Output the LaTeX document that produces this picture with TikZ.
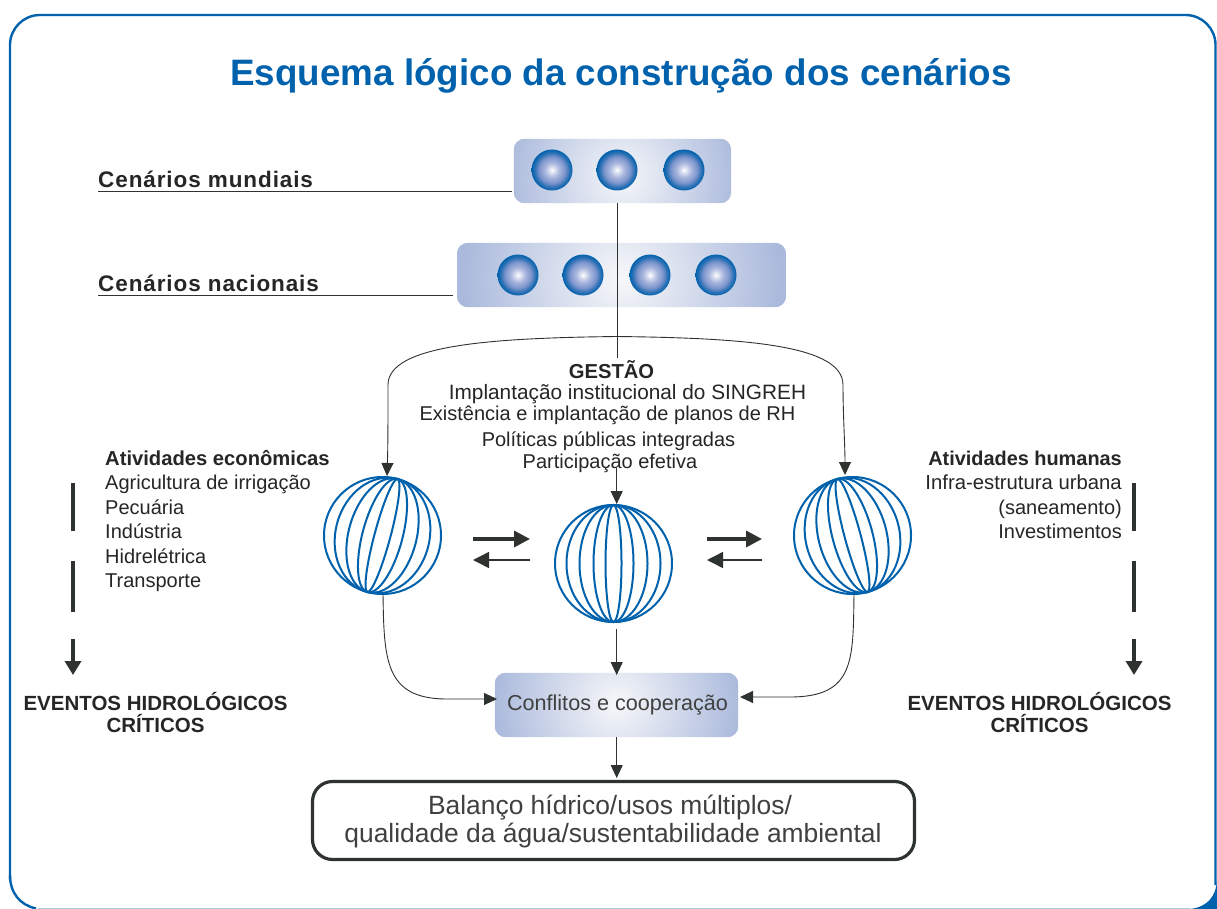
\documentclass[tikz,border=0pt]{standalone}
\usepackage{fontspec}
\setmainfont{Liberation Sans}
\usetikzlibrary{arrows.meta,calc}
\definecolor{bluebd}{HTML}{0062AC}
\definecolor{ink}{HTML}{2F332F}
\definecolor{txt}{HTML}{262626}
\definecolor{pan}{HTML}{AAB9DC}
\definecolor{panmid}{HTML}{F6F7F9}
\definecolor{ballA}{HTML}{E0E5F3}
\definecolor{ballB}{HTML}{A9B6DE}
\definecolor{ballC}{HTML}{7C95CC}
\definecolor{ballD}{HTML}{2F72B6}
\pgfdeclareradialshading{ballshade}{\pgfpoint{0bp}{0bp}}{
  color(0bp)=(white);
  color(3bp)=(ballA);
  color(9bp)=(ballB);
  color(16bp)=(ballC);
  color(21bp)=(ballD);
  color(25bp)=(bluebd);
  color(50bp)=(bluebd)}
\tikzset{
  px/.style={x=1pt,y=-1pt},
  panelbox/.style={draw=none,inner sep=0pt},
  ball/.style={circle,inner sep=0pt,minimum size=41pt,shading=ballshade},
  globe/.style={circle,inner sep=0pt,minimum size=117pt},
  meridian/.style={draw=bluebd,line width=2pt},
  wire/.style={draw=ink,line width=0.9pt},
  tiparrow/.style={wire,-{Triangle[length=13pt,width=12pt,color=ink]}},
  thickbar/.style={draw=ink,line width=3.6pt},
  txtnode/.style={inner sep=0pt,text=txt,font=\fontsize{20}{24}\selectfont,anchor=base},
  leftt/.style={txtnode,anchor=base west},
  rightt/.style={txtnode,anchor=base east},
  boldt/.style={font=\fontsize{20.2}{24}\selectfont\bfseries},
  eventt/.style={inner sep=0pt,text=txt,anchor=base,font=\fontsize{20.5}{24}\selectfont\bfseries},
  headt/.style={inner sep=0pt,text=txt,anchor=base west,font=\fontsize{22.5}{26}\selectfont\bfseries\addfontfeature{LetterSpace=4}},
  greyt/.style={inner sep=0pt,anchor=base,text=black!75},
}
\newcommand{\globelines}[3]{%
  \foreach \rx in {47,34,20,8}
    \draw[meridian,rotate around={#3:(#1,#2)}] (#1,#2) ellipse [x radius=\rx pt,y radius=58.5pt];
  \draw[meridian] (#1,#2) circle [radius=58.5pt];
}
\newcommand{\panelfill}[3]{%
  \begin{scope}
    \clip[rounded corners=11pt] (#1.north west) rectangle (#1.south east);
    \fill[pan] (#1.north west) rectangle (#1.south east);
    \shade[inner color=panmid,outer color=pan] ($(#1.center)+(0,#3)$) circle [radius=#2pt];
  \end{scope}}
\begin{document}
\begin{tikzpicture}[px]
\useasboundingbox (0,0) rectangle (1217,909);
\fill[white] (0,0) rectangle (1217,909);
% frame
\fill[bluebd] (1190,909) -- (1217,909) -- (1217,880) .. controls (1216,897) and (1207,907) .. (1190,909) -- cycle;
\draw[draw=bluebd!35,line width=1pt] (38,908.5) -- (1190,908.5);
\draw[draw=bluebd,line width=2.4pt] (36,908.5) .. controls (20,905) and (10,893) .. (10,875);
\draw[draw=bluebd,line width=2.4pt,rounded corners=30pt] (10,880) -- (10,15) -- (1215.5,15) -- (1215.5,885);

\node[inner sep=0pt,anchor=base,text=bluebd,font=\fontsize{36.8}{44}\selectfont\bfseries] (title) at (621,86) {Esquema lógico da construção dos cenários};

% panels
\node[panelbox,minimum width=217pt,minimum height=64pt] (panelA) at (622.5,171) {};
\node[panelbox,minimum width=329pt,minimum height=64pt] (panelB) at (621.5,275) {};
\node[panelbox,minimum width=243pt,minimum height=64pt] (panelC) at (616.5,705) {};
\panelfill{panelA}{118}{6}
\panelfill{panelB}{160}{4}
\panelfill{panelC}{125}{-2}

\foreach \i/\x in {1/552,2/617,3/684}
  \node[ball] (a\i) at (\x,170) {};
\foreach \i/\x in {1/518,2/583,3/650,4/716}
  \node[ball] (b\i) at (\x,275) {};

% heading labels and leaders
\node[headt] (hA) at (98,187.5) {Cenários mundiais};
\node[headt] (hB) at (98,291.5) {Cenários nacionais};
\coordinate (leadA) at (98,191);
\coordinate (leadB) at (98,295.5);
\draw[wire] (leadA) -- ($(leadA -| panelA.west)+(-2,0)$);
\draw[wire] (leadB) -- ($(leadB -| panelB.west)+(-4,0)$);

% globes
\node[globe] (gl) at (382.5,535.5) {};
\node[globe] (gm) at (613.5,563.5) {};
\node[globe] (gr) at (852.5,535.5) {};
\globelines{382.5}{535.5}{-15}
\globelines{613.5}{563.5}{0}
\globelines{852.5}{535.5}{15}

% central trunk and branches
\coordinate (trunk) at (617,336.5);
\coordinate (tipL) at (387,476);
\coordinate (tipR) at (845,475);
\coordinate (trunkend) at (617,358);
\draw[wire] (panelA.south -| trunk) -- (trunkend);
\draw[tiparrow] (trunk) .. controls (490,338) and (388,345) .. (388,385) .. controls (388,415) and (388,445) .. (tipL);
\draw[tiparrow] (trunk) .. controls (745,338) and (843,345) .. (843,385) .. controls (843,415) and (845,445) .. (tipR);

% gestão text
\node[txtnode,boldt] (g0) at (611.5,378) {GESTÃO};
\node[txtnode,font=\fontsize{20.8}{24}\selectfont] (g1) at (627.5,399) {Implantação institucional do SINGREH};
\node[txtnode] (g2) at (607.5,420) {Existência e implantação de planos de RH};
\node[txtnode] (g3) at (608.5,446) {Políticas públicas integradas};
\node[txtnode] (g4) at (610,468) {Participação efetiva};

% arrows around the middle globe
\coordinate (gtop) at (616.7,468);
\coordinate (gtip) at (616.7,504);
\draw[tiparrow] (gtop) -- (gtip);
\coordinate (gunder) at (616.7,629);
\coordinate (gunderb) at (616.7,675);
\draw[tiparrow] (gunder) -- (gunderb);
\coordinate (gbot) at (616.7,778);
\draw[tiparrow] (panelC.south -| gbot) -- (gbot);

% globes to conflict panel
\coordinate (cl) at (445,699);
\coordinate (cr) at (790,697);
\coordinate (cltip) at (497,699);
\coordinate (crtip) at (740,697);
\draw[tiparrow] (383,594) .. controls (384,660) and (385,698) .. (cl) -- (cltip);
\draw[tiparrow] (854,594) .. controls (853,660) and (855,697) .. (cr) -- (crtip);

% exchange arrows
\coordinate (s1) at (473,539);
\coordinate (e1) at (530,539);
\coordinate (s2) at (530,560);
\coordinate (e2) at (473,560);
\coordinate (s3) at (707,539);
\coordinate (e3) at (762,539);
\coordinate (s4) at (762,560);
\coordinate (e4) at (707,560);
\draw[draw=ink,line width=3.4pt,-{Triangle[length=16pt,width=16pt,color=ink]}] (s1) -- (e1);
\draw[draw=ink,line width=1.5pt,-{Triangle[length=16pt,width=16pt,color=ink]}] (s2) -- (e2);
\draw[draw=ink,line width=3.4pt,-{Triangle[length=16pt,width=16pt,color=ink]}] (s3) -- (e3);
\draw[draw=ink,line width=1.5pt,-{Triangle[length=16pt,width=16pt,color=ink]}] (s4) -- (e4);

% conflict and balance
\node[greyt,font=\fontsize{21.6}{26}\selectfont] (cc) at (617.5,710) {Conflitos e cooperação};
\node[draw=ink,line width=3.2pt,rounded corners=20pt,minimum width=602pt,minimum height=78pt,inner sep=0pt] (bal) at (613.5,820.5) {};
\node[greyt,font=\fontsize{26.4}{30}\selectfont] (b1) at (610,814.5) {Balanço hídrico/usos múltiplos/};
\node[greyt,font=\fontsize{26.4}{30}\selectfont] (b2) at (613,842.5) {qualidade da água/sustentabilidade ambiental};

% left column
\node[leftt,boldt] (l0) at (105,465) {Atividades econômicas};
\node[leftt] (l1) at (105,489.5) {Agricultura de irrigação};
\node[leftt] (l2) at (105,514) {Pecuária};
\node[leftt] (l3) at (105,538.5) {Indústria};
\node[leftt] (l4) at (105,563) {Hidrelétrica};
\node[leftt] (l5) at (105,587.5) {Transporte};

% right column
\node[rightt,boldt,font=\fontsize{19.9}{24}\selectfont\bfseries] (r0) at (1122,465) {Atividades humanas};
\node[rightt,font=\fontsize{20.3}{24}\selectfont] (r1) at (1122,489.5) {Infra-estrutura urbana};
\node[rightt] (r2) at (1122,514) {(saneamento)};
\node[rightt] (r3) at (1122,538.5) {Investimentos};

% dashed arrows
\foreach \nm/\x in {L/73,R/1134}{
  \coordinate (\nm a) at (\x,483);
  \coordinate (\nm b) at (\x,531);
  \coordinate (\nm c) at (\x,561);
  \coordinate (\nm d) at (\x,612);
  \coordinate (\nm e) at (\x,639);
  \coordinate (\nm f) at (\x,675);
  \draw[thickbar] (\nm a) -- (\nm b);
  \draw[thickbar] (\nm c) -- (\nm d);
  \draw[thickbar,-{Triangle[length=14pt,width=16pt,color=ink]}] (\nm e) -- (\nm f);
}

\node[eventt] (ev1) at (155.5,710) {EVENTOS HIDROLÓGICOS};
\node[eventt] (ev2) at (155.5,732) {CRÍTICOS};
\node[eventt] (ev3) at (1039.5,710) {EVENTOS HIDROLÓGICOS};
\node[eventt] (ev4) at (1039.5,732) {CRÍTICOS};
\end{tikzpicture}
\end{document}
